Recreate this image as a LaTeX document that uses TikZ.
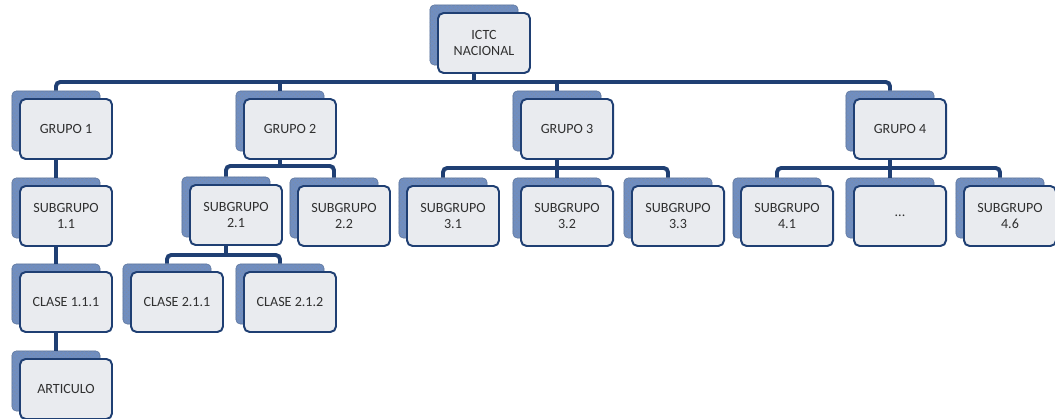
\documentclass[tikz,border=0pt]{standalone}
\usepackage{fontspec}
\setmainfont{Carlito}
\usetikzlibrary{patterns}
\definecolor{azulosc}{RGB}{31,63,115}
\definecolor{azulsom}{RGB}{112,142,192}
\definecolor{grisfondo}{RGB}{233,235,239}
\definecolor{gristexto}{RGB}{48,48,48}
\begin{document}
\begin{tikzpicture}[x=0.025cm,y=-0.025cm]

	\tikzset{
	  sombra/.style={
		draw=azulsom!80!black,
		fill=azulsom,
		line width=0.4pt,
		rounded corners=3pt,
		inner sep=0pt,
		minimum width=2.2cm,
		minimum height=1.5cm,
		postaction={pattern=crosshatch dots, pattern color=azulosc!60},
	  },
	  caja/.style={
		draw=azulosc,
		fill=grisfondo,
		line width=1.4pt,
		rounded corners=4pt,
		inner sep=0pt,
		minimum width=2.3cm,
		minimum height=1.5cm,
		align=center,
		text=gristexto,
		font=\fontsize{10}{11.5}\selectfont,
	  },
	  conector/.style={
		draw=azulosc,
		line width=2.8pt,
		rounded corners=3pt,
	  },
	}
	\useasboundingbox (0,0) rectangle (1055,419);
	% cajas de fondo
	\node[sombra] (root) at (474,35) {};
	\node[sombra] (g1) at (56,121) {};
	\node[sombra] (g2) at (280,121) {};
	\node[sombra] (g3) at (557,121) {};
	\node[sombra] (g4) at (890,121) {};
	\node[sombra] (s11) at (56,208) {};
	\node[sombra] (s21) at (226,207) {};
	\node[sombra] (s22) at (334,208) {};
	\node[sombra] (s31) at (443,208) {};
	\node[sombra] (s32) at (557,208) {};
	\node[sombra] (s33) at (668,208) {};
	\node[sombra] (s41) at (777,208) {};
	\node[sombra] (s4x) at (890,208) {};
	\node[sombra] (s46) at (1000,208) {};
	\node[sombra] (c111) at (56,294) {};
	\node[sombra] (c211) at (167,294) {};
	\node[sombra] (c212) at (280,294) {};
	\node[sombra] (art) at (56,381) {};
	% conectores
	\coordinate (bus) at (0,82);
	\coordinate (bus2) at (0,166);
	\coordinate (bus3) at (0,168);
	\coordinate (bus4) at (0,168);
	\coordinate (bus21) at (0,255);
	\draw[conector] (root.south) -- (root.south |- bus);
	\draw[conector] (g1.north) |- (g4.north |- bus) -- (g4.north);
	\draw[conector] (g2.north) -- (g2.north |- bus);
	\draw[conector] (g3.north) -- (g3.north |- bus);
	\draw[conector] (g1.south) -- (s11.north);
	\draw[conector] (s11.south) -- (c111.north);
	\draw[conector] (c111.south) -- (art.north);
	\draw[conector] (g2.south) -- (g2.south |- bus2);
	\draw[conector] (s21.north) |- (s22.north |- bus2) -- (s22.north);
	\draw[conector] (g3.south) -- (g3.south |- bus3);
	\draw[conector] (s31.north) |- (s33.north |- bus3) -- (s33.north);
	\draw[conector] (s32.north) -- (s32.north |- bus3);
	\draw[conector] (g4.south) -- (g4.south |- bus4);
	\draw[conector] (s41.north) |- (s46.north |- bus4) -- (s46.north);
	\draw[conector] (s4x.north) -- (s4x.north |- bus4);
	\draw[conector] (s21.south) -- (s21.south |- bus21);
	\draw[conector] (c211.north) |- (c212.north |- bus21) -- (c212.north);
	% cajas con texto
	\node[caja] (rootf) at (484,43) {ICTC\\NACIONAL};
	\node[caja] (g1f) at (66,129) {GRUPO 1};
	\node[caja] (g2f) at (290,129) {GRUPO 2};
	\node[caja] (g3f) at (567,129) {GRUPO 3};
	\node[caja] (g4f) at (900,129) {GRUPO 4};
	\node[caja] (s11f) at (66,216) {SUBGRUPO\\1.1};
	\node[caja] (s21f) at (236,215) {SUBGRUPO\\2.1};
	\node[caja] (s22f) at (344,216) {SUBGRUPO\\2.2};
	\node[caja] (s31f) at (453,216) {SUBGRUPO\\3.1};
	\node[caja] (s32f) at (567,216) {SUBGRUPO\\3.2};
	\node[caja] (s33f) at (678,216) {SUBGRUPO\\3.3};
	\node[caja] (s41f) at (787,216) {SUBGRUPO\\4.1};
	\node[caja] (s4xf) at (900,216) {...};
	\node[caja] (s46f) at (1010,216) {SUBGRUPO\\4.6};
	\node[caja] (c111f) at (66,302) {CLASE 1.1.1};
	\node[caja] (c211f) at (177,302) {CLASE 2.1.1};
	\node[caja] (c212f) at (290,302) {CLASE 2.1.2};
	\node[caja] (artf) at (66,389) {ARTICULO};

\end{tikzpicture}
\end{document}
